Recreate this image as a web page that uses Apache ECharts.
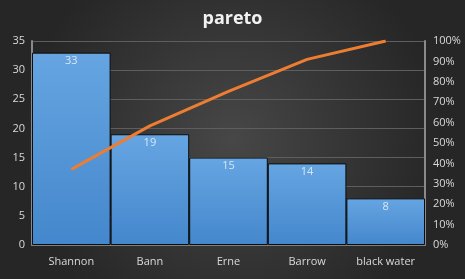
<!DOCTYPE html>
<html><head><meta charset="utf-8">
<script src="https://cdn.jsdelivr.net/npm/echarts@6/dist/echarts.min.js"></script>
<style>html,body{margin:0;padding:0;background:#333}#c{width:465px;height:279px}</style>
</head><body><div id="c"></div>
<script>
const categories = ["Shannon", "Bann", "Erne", "Barrow", "black water"];
const counts = [33, 19, 15, 14, 8];
const cumulativePct = [37.1, 58.4, 75.3, 91.0, 100];
const leftTicks = [0, 5, 10, 15, 20, 25, 30, 35];
const rightTicks = [0, 10, 20, 30, 40, 50, 60, 70, 80, 90, 100];

const chart = echarts.init(document.getElementById('c'));
const lab = {color: '#d9d9d9', fontSize: 11, fontFamily: 'Open Sans, sans-serif'};
chart.setOption({
  animation: false,
  backgroundColor: {type: 'radial', x: 0.5, y: 0.5, r: 0.75,
    colorStops: [{offset: 0, color: '#474747'}, {offset: 1, color: '#262626'}]},
  title: {text: 'pareto', left: 'center', top: 5,
    textStyle: {color: '#f2f2f2', fontSize: 18, fontWeight: 'bold', fontFamily: 'Open Sans, sans-serif'}},
  grid: {left: 32, right: 40, top: 41, bottom: 34},
  xAxis: {type: 'category', data: categories,
    axisLine: {lineStyle: {color: '#7f7f7f', width: 2}},
    axisTick: {show: false},
    axisLabel: Object.assign({margin: 11}, lab)},
  yAxis: [
    {type: 'value', min: 0, max: 35, interval: 5,
      axisLine: {show: true, lineStyle: {color: '#8a8a8a', width: 2}},
      axisTick: {show: false},
      axisLabel: Object.assign({margin: 7}, lab),
      splitLine: {lineStyle: {color: '#5e5e5e', width: 1}}},
    {type: 'value', min: 0, max: 100, interval: 10,
      axisLine: {show: true, lineStyle: {color: '#8a8a8a', width: 2}},
      axisTick: {show: false},
      axisLabel: Object.assign({margin: 8, formatter: '{value}%'}, lab),
      splitLine: {show: false}}
  ],
  series: [
    {type: 'bar', data: counts, barCategoryGap: 0, yAxisIndex: 0,
      itemStyle: {borderColor: '#0d0d0d', borderWidth: 1,
        color: {type: 'linear', x: 0, y: 0, x2: 0, y2: 1,
          colorStops: [{offset: 0, color: '#66a5e2'}, {offset: 1, color: '#4487cc'}]}},
      label: {show: true, position: 'insideTop', distance: 3, color: '#d6e6f5', fontSize: 11, fontFamily: 'Open Sans, sans-serif'}},
    {type: 'line', data: cumulativePct, yAxisIndex: 1, symbol: 'none',
      lineStyle: {color: '#ed7d31', width: 3}}
  ]
});
</script></body></html>
